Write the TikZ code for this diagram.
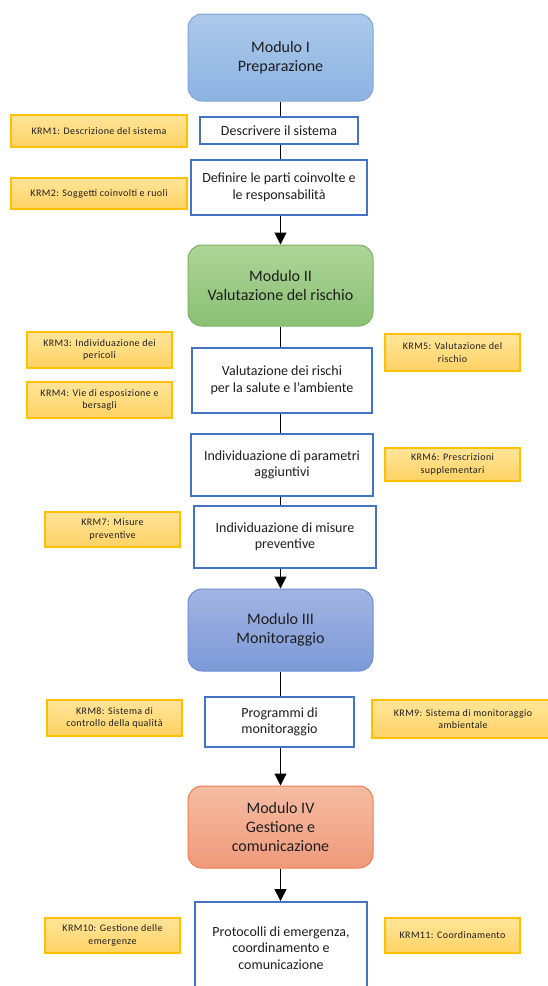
\documentclass[tikz,border=0pt]{standalone}
\usepackage{fontspec}
\setmainfont{Carlito}
\usetikzlibrary{arrows.meta}

\definecolor{testo}{RGB}{30,30,30}
\definecolor{bluIa}{RGB}{172,201,234}
\definecolor{bluIb}{RGB}{141,179,226}
\definecolor{bluIbordo}{RGB}{125,165,215}
\definecolor{verdea}{RGB}{174,212,152}
\definecolor{verdeb}{RGB}{138,192,116}
\definecolor{verdebordo}{RGB}{125,178,98}
\definecolor{bluIIIa}{RGB}{163,180,226}
\definecolor{bluIIIb}{RGB}{124,153,215}
\definecolor{bluIIIbordo}{RGB}{108,142,212}
\definecolor{arancioa}{RGB}{245,188,163}
\definecolor{aranciob}{RGB}{240,154,122}
\definecolor{aranciobordo}{RGB}{237,125,80}
\definecolor{passoblu}{RGB}{68,114,196}
\definecolor{krma}{RGB}{255,229,153}
\definecolor{krmb}{RGB}{255,210,100}
\definecolor{krmbordo}{RGB}{255,192,0}

\tikzset{
	modulo/.style={rounded corners=14pt, line width=1pt, align=center, text=testo,
		inner sep=0pt, minimum width=185pt, font=\fontsize{16}{19}\selectfont},
	passo/.style={draw=passoblu, line width=1.8pt, fill=white, align=center, text=testo,
		inner sep=0pt, font=\fontsize{14}{16.5}\selectfont},
	krm/.style={draw=krmbordo, line width=1.2pt, top color=krma, bottom color=krmb,
		align=center, text=testo, inner sep=0pt,
		font=\fontsize{10}{12.5}\selectfont\addfontfeature{LetterSpace=4}},
	freccia/.style={-{Triangle[width=12pt,length=12pt]}},
}

\begin{document}
\begin{tikzpicture}[x=1pt, y=-1pt, line width=1pt]
	\useasboundingbox (0,0) rectangle (547,986);
	% moduli
	\node [modulo, draw=bluIbordo, top color=bluIa, bottom color=bluIb, minimum height=87pt]
		(m1) at (280.5,57.5) {Modulo I\\Preparazione};
	\node [modulo, draw=verdebordo, top color=verdea, bottom color=verdeb, minimum height=81pt]
		(m2) at (280.5,285.5) {Modulo II\\Valutazione del rischio};
	\node [modulo, draw=bluIIIbordo, top color=bluIIIa, bottom color=bluIIIb, minimum height=82pt]
		(m3) at (280.5,630) {Modulo III\\Monitoraggio};
	\node [modulo, draw=aranciobordo, top color=arancioa, bottom color=aranciob, minimum height=82pt]
		(m4) at (280.5,827) {Modulo IV\\Gestione e\\comunicazione};
	% passi
	\node [passo, minimum width=158pt, minimum height=27pt] (descr) at (279,130.5) {Descrivere il sistema};
	\node [passo, minimum width=176pt, minimum height=55pt] (parti) at (279,187.5) {Definire le parti coinvolte e\\le responsabilità};
	\node [passo, minimum width=180pt, minimum height=65pt] (rischi) at (282,380.5) {Valutazione dei rischi\\per la salute e l'ambiente};
	\node [passo, minimum width=182pt, minimum height=62pt] (param) at (282,465) {Individuazione di parametri\\aggiuntivi};
	\node [passo, minimum width=182pt, minimum height=62pt] (misure) at (285,537) {Individuazione di misure\\preventive};
	\node [passo, minimum width=149pt, minimum height=50pt] (progr) at (279.5,722) {Programmi di\\monitoraggio};
	\node [passo, minimum width=172pt, minimum height=92pt] (protoc) at (281,948) {Protocolli di emergenza,\\coordinamento e\\comunicazione};
	% KRM
	\node [krm, minimum width=176pt, minimum height=32pt] (krm1) at (99,131) {KRM1: Descrizione del sistema};
	\node [krm, minimum width=176pt, minimum height=31pt] (krm2) at (99,193.5) {KRM2: Soggetti coinvolti e ruoli};
	\node [krm, minimum width=145pt, minimum height=36pt] (krm3) at (99.5,350) {KRM3: Individuazione dei\\pericoli};
	\node [krm, minimum width=145pt, minimum height=36pt] (krm4) at (99.5,400) {KRM4: Vie di esposizione e\\bersagli};
	\node [krm, minimum width=135pt, minimum height=37pt] (krm5) at (452.5,352.5) {KRM5: Valutazione del\\rischio};
	\node [krm, minimum width=135pt, minimum height=33pt] (krm6) at (452.5,464.5) {KRM6: Prescrizioni\\supplementari};
	\node [krm, minimum width=135pt, minimum height=35pt] (krm7) at (112.5,529.5) {KRM7: Misure\\preventive};
	\node [krm, minimum width=135pt, minimum height=36pt] (krm8) at (114.5,718) {KRM8: Sistema di\\controllo della qualità};
	\node [krm, minimum width=182pt, minimum height=38pt] (krm9) at (463,719) {KRM9: Sistema di monitoraggio\\ambientale};
	\node [krm, minimum width=135pt, minimum height=35pt] (krm10) at (112.5,935.5) {KRM10: Gestione delle\\emergenze};
	\node [krm, minimum width=135pt, minimum height=35pt] (krm11) at (452.5,935.5) {KRM11: Coordinamento};
	% collegamenti
	\foreach \a/\b in {m1/descr, descr/parti, m2/rischi, rischi/param, param/misure, m3/progr}
		\draw (\a.south -| m1) -- (\b.north -| m1);
	\foreach \a/\b in {parti/m2, misure/m3, progr/m4, m4/protoc}
		\draw [freccia] (\a.south -| m1) -- (\b.north -| m1);
\end{tikzpicture}
\end{document}
